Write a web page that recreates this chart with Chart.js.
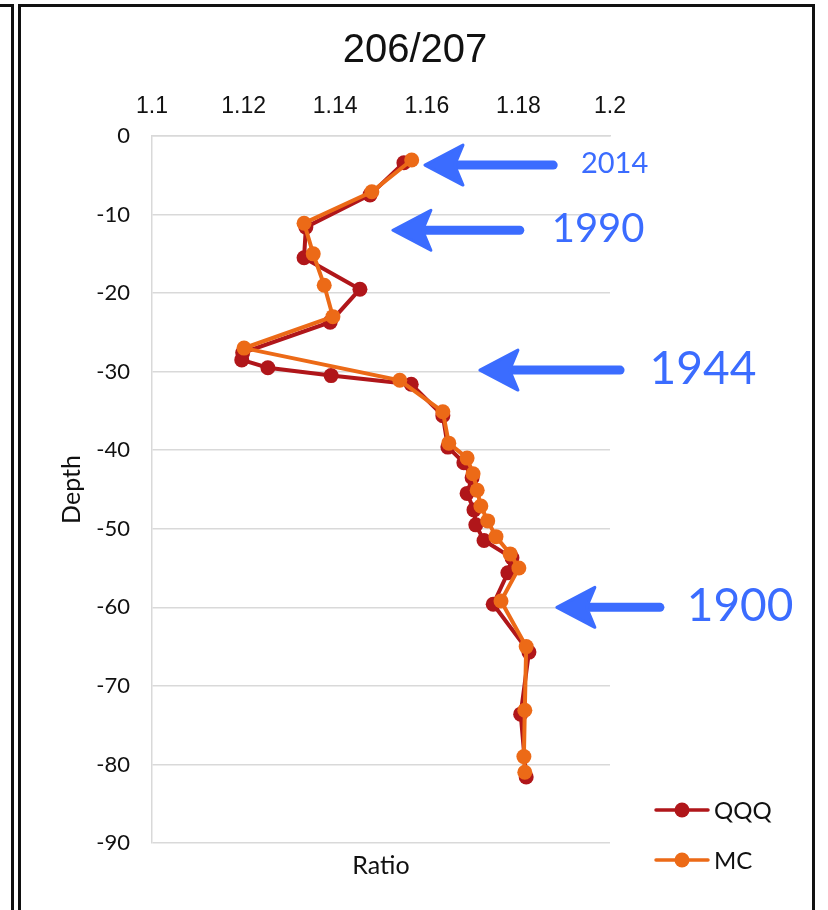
<!DOCTYPE html>
<html>
<head>
<meta charset="utf-8">
<script src="https://cdn.jsdelivr.net/npm/chart.js@4/dist/chart.umd.min.js"></script>
<style>
html,body{margin:0;padding:0;background:#fff;}
#wrap{position:relative;width:828px;height:910px;overflow:hidden;}
#wrap canvas{position:absolute;left:0;top:0;}
.ln{position:absolute;background:#111;}
</style>
</head>
<body>
<div id="wrap">
  <canvas id="c" width="828" height="910"></canvas>
  <!-- frame lines -->
  <div class="ln" style="left:0;top:4px;width:14px;height:3px"></div>
  <div class="ln" style="left:11px;top:4px;width:3px;height:906px"></div>
  <div class="ln" style="left:18px;top:4px;width:797px;height:3px"></div>
  <div class="ln" style="left:18px;top:4px;width:3px;height:906px"></div>
  <div class="ln" style="left:812px;top:4px;width:3px;height:906px"></div>
</div>
<script>
// ---- data ----
const QQQ_RATIO=[1.1550,1.1476,1.1336,1.1332,1.1454,1.1389,1.1198,1.1196,1.1253,1.1391,1.1566,1.1635,1.1646,1.1681,1.1699,1.1688,1.1703,1.1707,1.1725,1.1786,1.1777,1.1745,1.1823,1.1805,1.1817];
const QQQ_DEPTH=[-3.4,-7.5,-11.6,-15.5,-19.5,-23.7,-27.6,-28.5,-29.5,-30.5,-31.6,-35.6,-39.6,-41.6,-43.5,-45.5,-47.6,-49.5,-51.5,-53.7,-55.6,-59.6,-65.7,-73.6,-81.6];
const MC_RATIO=[1.1567,1.1480,1.1332,1.1352,1.1376,1.1395,1.1201,1.1541,1.1635,1.1648,1.1688,1.1701,1.1710,1.1718,1.1733,1.1751,1.1782,1.1801,1.1762,1.1817,1.1814,1.1812,1.1814];
const MC_DEPTH=[-3.05,-7.1,-11.1,-15.0,-19.0,-23.0,-27.0,-31.1,-35.1,-39.1,-41.0,-43.0,-45.1,-47.1,-49.0,-51.0,-53.2,-55.0,-59.2,-65.0,-73.1,-79.0,-81.0];
const SERIES=['QQQ','MC'];
const X_TICKS=[1.1,1.12,1.14,1.16,1.18,1.2];
// year markers: label, depth, arrow tip / tail ratio, label ratio, font size
const YEARS=['2014','1990','1944','1900'];
const YEAR_DEPTH=[-3.7,-12.0,-29.8,-60.0];
const YEAR_TIP=[1.1596,1.1526,1.1716,1.1884];
const YEAR_TAIL=[1.1876,1.1803,1.2022,1.2109];
const YEAR_TEXT=[1.2010,1.1974,1.2203,1.2284];
const YEAR_SIZE=[29,40,46,46];

const RED='#B0161A',ORANGE='#EC6A17',BLUE='#3B6CFF',GRID='#d9d9d9';
const FONT='Lato, "DejaVu Sans", sans-serif';
const NARROW='"Liberation Sans Narrow", "Liberation Sans", sans-serif';

const pts=(xs,ys)=>xs.map((x,i)=>({x,y:ys[i]}));

// ==================================================
// Overlay: title, axis names, legend, year arrows
// ==================================================
const overlay={id:'overlay',afterDraw(ch){
  const c=ch.ctx,xs=ch.scales.x,ys=ch.scales.y,a=ch.chartArea;
  c.save();
  c.fillStyle='#111';c.textAlign='center';c.textBaseline='middle';
  c.font='40px '+NARROW;c.fillText('206/207',415,51);
  c.font='25px '+FONT;c.fillText('Ratio',(a.left+a.right)/2,866);
  c.save();c.translate(72,(a.top+a.bottom)/2);c.rotate(-Math.PI/2);c.fillText('Depth',0,0);c.restore();
  // legend
  ch.data.datasets.forEach((ds,i)=>{
    const y=810+i*50;
    c.strokeStyle=ds.borderColor;c.lineWidth=3.5;c.lineCap='round';
    c.beginPath();c.moveTo(656,y);c.lineTo(708,y);c.stroke();
    c.fillStyle=ds.borderColor;c.beginPath();c.arc(682,y,7.5,0,Math.PI*2);c.fill();
    c.fillStyle='#111';c.textAlign='left';c.font='24px '+FONT;c.fillText(ds.label,714,y+1);
  });
  // year arrows
  YEARS.forEach((t,i)=>{
    const y=ys.getPixelForValue(YEAR_DEPTH[i]),tip=xs.getPixelForValue(YEAR_TIP[i]),tail=xs.getPixelForValue(YEAR_TAIL[i]);
    const hl=38,hh=20;
    c.strokeStyle=BLUE;c.fillStyle=BLUE;c.lineWidth=9;c.lineCap='round';
    c.beginPath();c.moveTo(tail,y);c.lineTo(tip+hl*0.7,y);c.stroke();
    c.lineJoin='round';c.lineWidth=3;
    c.beginPath();c.moveTo(tip,y);c.lineTo(tip+hl,y-hh);c.lineTo(tip+hl*0.78,y);c.lineTo(tip+hl,y+hh);c.closePath();c.fill();c.stroke();
    c.textAlign='center';c.font=YEAR_SIZE[i]+'px '+FONT;
    c.fillText(t,xs.getPixelForValue(YEAR_TEXT[i]),y-1);
  });
  c.restore();
}};

new Chart(document.getElementById('c'),{
  type:'scatter',
  data:{datasets:[
    {label:SERIES[0],data:pts(QQQ_RATIO,QQQ_DEPTH),showLine:true,borderColor:RED,backgroundColor:RED,borderWidth:4,pointRadius:7.5,pointBorderWidth:0,pointHoverRadius:7.5,order:2},
    {label:SERIES[1],data:pts(MC_RATIO,MC_DEPTH),showLine:true,borderColor:ORANGE,backgroundColor:ORANGE,borderWidth:4,pointRadius:7.5,pointBorderWidth:0,pointHoverRadius:7.5,order:1}
  ]},
  options:{
    responsive:false,animation:false,
    layout:{padding:{left:0,right:218,top:0,bottom:67}},
    plugins:{legend:{display:false},title:{display:false},tooltip:{enabled:false}},
    scales:{
      x:{type:'linear',position:'top',min:1.1,max:1.2,
        afterBuildTicks:s=>{s.ticks=X_TICKS.map(v=>({value:v}));},
        afterFit:s=>{s.height=136;},
        grid:{display:false},border:{display:true,color:GRID,width:1.5},
        ticks:{padding:8,color:'#111',font:{family:NARROW,size:23},callback:v=>String(+v.toFixed(2))}},
      y:{type:'linear',min:-90,max:0,
        afterFit:s=>{s.width=152;},
        grid:{color:GRID,lineWidth:1.5,drawTicks:false},border:{display:true,color:GRID,width:1.5},
        ticks:{stepSize:10,padding:22,color:'#111',font:{family:FONT,size:22}}}
    }
  },
  plugins:[overlay]
});
</script>
</body>
</html>
